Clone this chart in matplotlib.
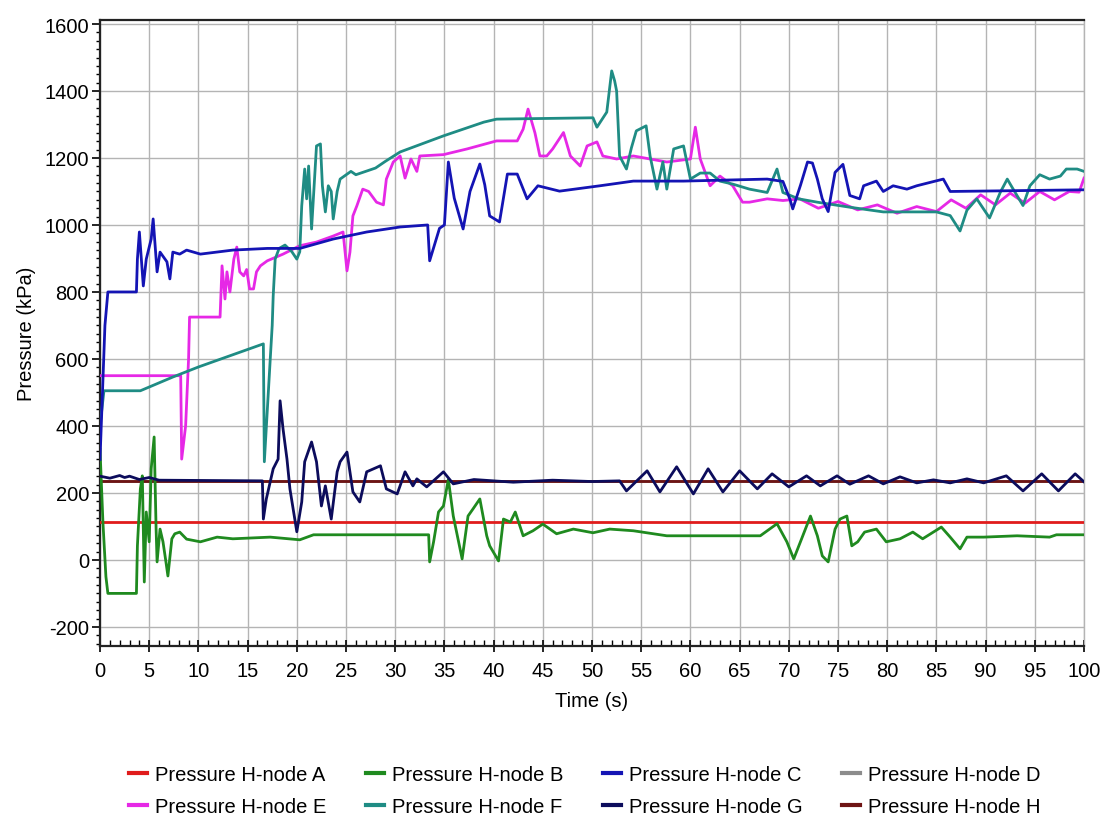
import matplotlib
matplotlib.use("Agg")
import matplotlib.pyplot as plt
from matplotlib.ticker import MultipleLocator

plt.rcParams['font.family'] = ['Liberation Sans Narrow', 'Liberation Sans', 'DejaVu Sans']
plt.rcParams['axes.unicode_minus'] = False

# H-node A and H : constant pressures
a_time = [0, 100]
a_pressure = [112, 112]

d_time = [0, 100]
d_pressure = [236, 236]

h_time = [0, 100]
h_pressure = [236, 236]

# H-node B (green)
b_time = [0, 0.3, 0.6, 0.8, 3.7, 3.8, 4.1, 4.3, 4.5, 4.7, 5.0, 5.2, 5.5, 5.7, 5.8, 6.1, 6.4, 6.7,
          6.9, 7.3, 7.6, 8.1, 8.8, 10.2, 11.9, 13.5, 17.3, 20.3, 21.7, 33.4, 33.5, 33.9, 34.4, 34.9,
          35.4, 35.9, 36.8, 37.4, 37.9, 38.6, 39.3, 39.6, 40.5, 41.0, 41.7, 42.2, 43.0, 44.0, 45.0,
          46.4, 48.1, 50.1, 51.8, 54.2, 57.6, 67.1, 68.8, 69.8, 70.5, 71.3, 72.2, 72.9, 73.4, 74.0,
          74.7, 75.2, 75.9, 76.4, 77.0, 77.7, 78.9, 79.9, 81.3, 82.6, 83.6, 85.5, 86.4, 87.4, 88.1,
          89.8, 93.2, 96.5, 97.2, 100]
b_pressure = [330, 110, -50, -100, -100, 42, 212, 251, -66, 143, 54, 272, 367, 92, -6, 92, 54, -6,
              -48, 63, 78, 83, 62, 54, 68, 63, 68, 60, 75, 75, -6, 54, 143, 161,
              240, 131, 3, 131, 152, 182, 72, 42, -3, 122, 113, 143, 72, 87, 107,
              78, 92, 81, 92, 87, 72, 72, 108, 54, 3, 63, 131, 72, 12, -6,
              92, 122, 131, 42, 54, 83, 92, 54, 63, 83, 63, 98, 68, 33, 68,
              68, 72, 68, 75, 75]

# H-node C (blue)
c_time = [0, 0.5, 0.8, 3.7, 3.8, 4.0, 4.4, 4.7, 5.2, 5.4, 5.8, 6.1, 6.8, 7.1, 7.4, 8.1, 8.8, 10.2,
          13.5, 17.0, 20.3, 23.7, 27.1, 30.5, 33.3, 33.5, 34.5, 35.0, 35.4, 36.0, 36.9, 37.6, 38.6,
          39.1, 39.6, 40.6, 41.4, 42.4, 43.4, 44.5, 46.7, 50.8, 54.2, 59.3, 67.8, 69.4, 70.1, 70.4,
          71.2, 71.9, 72.4, 72.9, 73.4, 74.0, 74.7, 75.5, 76.2, 77.2, 77.6, 78.9, 79.6, 80.6, 82.0,
          83.0, 85.7, 86.4, 100]
c_pressure = [300, 700, 800, 800, 898, 979, 818, 898, 958, 1018, 860, 919, 890, 839, 919, 913, 925, 913,
              925, 930, 930, 958, 979, 994, 1000, 893, 990, 1000, 1188, 1080, 988, 1100, 1182,
              1120, 1027, 1009, 1152, 1152, 1078, 1117, 1101, 1117, 1131, 1131, 1137, 1130, 1078, 1048,
              1120, 1188, 1185, 1137, 1078, 1040, 1157, 1181, 1088, 1078, 1117, 1131, 1100, 1117, 1107,
              1117, 1137, 1100, 1105]

# H-node E (magenta)
e_time = [0, 8.2, 8.3, 8.7, 9.0, 9.1, 12.2, 12.4, 12.7, 12.9, 13.2, 13.6, 13.9, 14.2, 14.6, 14.9,
          15.2, 15.6, 15.9, 16.3, 17.0, 18.6, 20.3, 22.0, 23.7, 24.7, 25.1, 25.4, 25.7, 26.1, 26.7,
          27.3, 28.1, 28.8, 29.1, 29.8, 30.5, 31.0, 31.6, 32.2, 32.5, 34.9, 37.3, 40.3, 42.4, 43.0,
          43.5, 44.2, 44.7, 45.4, 46.0, 47.1, 47.8, 48.8, 49.5, 50.5, 51.1, 52.5, 54.2, 55.9, 57.6,
          60.0, 60.5, 61.0, 62.0, 63.0, 64.3, 65.3, 66.0, 67.8, 69.4, 71.1, 73.0, 75.0, 77.0, 79.0,
          81.0, 83.0, 85.0, 86.5, 88.0, 89.5, 91.0, 92.5, 94.0, 95.5, 97.0, 98.5, 99.5, 100]
e_pressure = [550, 550, 301, 400, 600, 725, 725, 878, 779, 860, 800, 898, 934, 860, 848, 867,
              809, 809, 860, 878, 893, 913, 938, 949, 967, 979, 863, 919, 1027, 1057, 1107,
              1100, 1068, 1060, 1137, 1188, 1206, 1140, 1197, 1160, 1206, 1210, 1227, 1251, 1251, 1286,
              1346, 1275, 1206, 1206, 1227, 1276, 1206, 1176, 1236, 1248, 1206, 1197, 1206, 1197, 1188,
              1197, 1292, 1197, 1117, 1146, 1117, 1068, 1068, 1078, 1073, 1078, 1050, 1070, 1045, 1060,
              1035, 1055, 1040, 1075, 1050, 1090, 1060, 1095, 1065, 1100, 1075, 1100, 1098, 1140]

# H-node F (teal)
f_time = [0, 0.4, 4.1, 7.4, 10.0, 16.6, 16.7, 17.3, 17.5, 17.6, 17.8, 18.2, 18.8, 19.5, 20.0, 20.3,
          20.5, 20.8, 21.0, 21.2, 21.5, 22.0, 22.4, 22.6, 22.9, 23.2, 23.5, 23.7, 24.1, 24.4, 25.5,
          26.0, 27.0, 28.0, 29.0, 30.5, 34.9, 39.0, 40.3, 50.1, 50.5, 51.5, 52.0, 52.3, 52.5, 52.8,
          53.5, 54.0, 54.5, 55.5, 55.9, 56.6, 57.2, 57.6, 58.3, 59.3, 60.0, 61.0, 62.0, 63.0, 64.3,
          66.0, 67.8, 68.8, 69.4, 71.0, 72.9, 76.2, 79.6, 85.0, 86.4, 87.4, 88.1, 89.1, 90.4, 91.5,
          92.2, 92.8, 93.8, 94.5, 95.5, 96.5, 97.6, 98.2, 99.3, 100]
f_pressure = [400, 505, 505, 546, 576, 645, 293, 600, 700, 788, 898, 930, 940, 920, 898, 920,
              1057, 1167, 1078, 1176, 988, 1236, 1242, 1117, 1039, 1117, 1100, 1018, 1100, 1137, 1160,
              1150, 1160, 1170, 1190, 1218, 1266, 1307, 1316, 1320, 1292, 1337, 1460, 1430, 1400, 1206,
              1167, 1230, 1281, 1296, 1206, 1107, 1188, 1107, 1227, 1236, 1137, 1155, 1155, 1131, 1122,
              1107, 1097, 1167, 1097, 1078, 1068, 1053, 1039, 1039, 1028, 982, 1044, 1078, 1021, 1098,
              1137, 1107, 1058, 1117, 1150, 1137, 1146, 1167, 1167, 1160]

# H-node G (navy)
g_time = [0, 1.0, 2.0, 2.5, 3.0, 4.0, 5.0, 6.0, 16.5, 16.6, 16.9, 17.6, 18.1, 18.3, 18.6, 19.0,
          19.3, 20.0, 20.5, 20.8, 21.5, 22.0, 22.5, 22.9, 23.5, 24.1, 24.4, 25.1, 25.7, 26.4, 27.1,
          28.5, 29.1, 30.2, 31.0, 31.8, 32.2, 33.2, 34.9, 35.9, 38.0, 42.0, 46.0, 50.0, 52.8, 53.5,
          55.6, 56.9, 58.6, 60.3, 61.8, 63.3, 65.0, 66.8, 68.3, 70.0, 71.8, 73.2, 74.9, 76.2, 78.1,
          79.6, 81.3, 83.0, 84.7, 86.4, 88.1, 89.8, 92.1, 93.8, 95.7, 97.4, 99.1, 100]
g_pressure = [250, 244, 252, 246, 250, 240, 246, 238, 236, 122, 182, 272, 301, 475, 391, 301,
              212, 84, 173, 293, 352, 293, 161, 221, 122, 263, 293, 322, 203, 173, 263,
              281, 212, 197, 263, 221, 242, 218, 263, 227, 240, 232, 238, 234, 236, 206,
              266, 203, 278, 197, 272, 203, 266, 212, 257, 218, 251, 221, 251, 226, 251,
              227, 248, 230, 239, 230, 242, 230, 251, 206, 257, 206, 257, 233]

series = [
    ("Pressure H-node A", a_time, a_pressure, "#e01b1b"),
    ("Pressure H-node B", b_time, b_pressure, "#1f8a1f"),
    ("Pressure H-node C", c_time, c_pressure, "#1414b4"),
    ("Pressure H-node D", d_time, d_pressure, "#8c8c8c"),
    ("Pressure H-node E", e_time, e_pressure, "#e628e6"),
    ("Pressure H-node F", f_time, f_pressure, "#1f8c84"),
    ("Pressure H-node G", g_time, g_pressure, "#0c0c5c"),
    ("Pressure H-node H", h_time, h_pressure, "#6e1414"),
]
draw_order = [3, 7, 0, 1, 6, 4, 5, 2]

fig = plt.figure(figsize=(11.1, 8.2), dpi=100)
ax = fig.add_axes([0.0901, 0.211, 0.8865, 0.7634])

lines = {}
for k, i in enumerate(draw_order):
    name, t, p, col = series[i]
    lines[i], = ax.plot(t, p, color=col, lw=2.0, label=name, zorder=3 + k * 0.01)

ax.set_xlim(0, 100)
ax.set_ylim(-257, 1612)
ax.xaxis.set_major_locator(MultipleLocator(5))
ax.xaxis.set_minor_locator(MultipleLocator(1))
ax.yaxis.set_major_locator(MultipleLocator(200))
ax.yaxis.set_minor_locator(MultipleLocator(25))
ax.grid(True, which="major", color="#b4b4b4", lw=1.0)

ax.tick_params(axis="x", which="major", direction="inout", length=9, width=1.2, labelsize=14.5, pad=6)
ax.tick_params(axis="x", which="minor", direction="in", length=4, width=1)
ax.tick_params(axis="y", which="major", direction="out", length=6, width=1.2, labelsize=14.5, pad=2)
ax.tick_params(axis="y", which="minor", direction="out", length=3, width=1)

for s in ("left", "bottom", "top"):
    ax.spines[s].set_linewidth(1.6)
    ax.spines[s].set_color("#222222")
ax.spines["right"].set_color("#b4b4b4")
ax.spines["right"].set_linewidth(1.0)

ax.set_xlabel("Time (s)", fontsize=14.5, labelpad=8)
ax.set_ylabel("Pressure (kPa)", fontsize=14.5, labelpad=6)

# legend fills column by column, so interleave to get rows A-D / E-H
order = [0, 4, 1, 5, 2, 6, 3, 7]
leg = fig.legend(handles=[lines[i] for i in order], labels=[series[i][0] for i in order],
                 loc="center", ncol=4, bbox_to_anchor=(0.527, 0.035), frameon=False, fontsize=14.5,
                 handlelength=0.9, handletextpad=0.4, columnspacing=1.95, labelspacing=0.65)
for lh in leg.get_lines():
    lh.set_linewidth(3)

fig.savefig("out.png", dpi=100)
